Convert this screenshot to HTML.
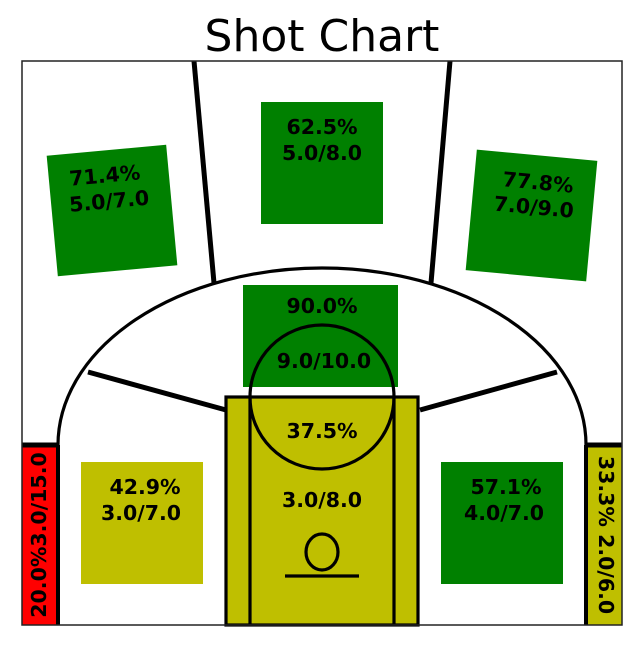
<!DOCTYPE html>
<html><head><meta charset="utf-8">
<style>
html,body{margin:0;padding:0;background:#fff;}
svg{display:block;}
text{font-family:"DejaVu Sans","Liberation Sans",sans-serif;}
</style></head>
<body>
<svg id="chart" width="637" height="647" viewBox="0 0 637 647" xmlns="http://www.w3.org/2000/svg">
<rect x="0" y="0" width="637" height="647" fill="#fff"/>
<text x="322" y="51" font-size="44" text-anchor="middle" fill="#000">Shot Chart</text>
<g id="zones"></g>
<g id="court" fill="none" stroke="#000">
  <path d="M58,445 A264,177 0 0 1 586,445" stroke-width="3.2"/>
  <line x1="58" y1="445" x2="58" y2="625" stroke-width="4"/>
  <line x1="586" y1="445" x2="586" y2="625" stroke-width="4"/>
  <line x1="22" y1="445" x2="58" y2="445" stroke-width="5"/>
  <line x1="586" y1="445" x2="622" y2="445" stroke-width="5"/>
  <line x1="88" y1="372" x2="226" y2="410" stroke-width="5"/>
  <line x1="557" y1="372" x2="420" y2="410" stroke-width="5"/>
  <line x1="194" y1="61" x2="214" y2="283" stroke-width="5"/>
  <line x1="450" y1="61" x2="431" y2="283" stroke-width="5"/>
</g>
<g id="paint-layer"></g>
<g id="labels"></g>
<rect x="22" y="61" width="600" height="564" fill="none" stroke="#222" stroke-width="1.5"/>
</svg>
<script>
// Zone data
const zoneNames = ["left-corner","left-wing","left-top","top","right-top","right-wing","right-corner","mid-range","paint"];
const makes    = [3, 3, 5, 5, 7, 4, 2, 9, 3];
const attempts = [15, 7, 7, 8, 9, 7, 6, 10, 8];

const NS = "http://www.w3.org/2000/svg";
function colorFor(p){ return p < 0.3 ? "#ff0000" : (p < 0.5 ? "#bfbf00" : "#008000"); }
function pct(i){ return makes[i]/attempts[i]; }
function pctText(i){ return (pct(i)*100).toFixed(1)+"%"; }
function ratioText(i){ return makes[i].toFixed(1)+"/"+attempts[i].toFixed(1); }
function mk(tag, attrs, parent){ const e=document.createElementNS(NS,tag); for(const k in attrs) e.setAttribute(k,attrs[k]); parent.appendChild(e); return e; }

const zones = document.getElementById("zones");
const paintLayer = document.getElementById("paint-layer");
const labels = document.getElementById("labels");

const boxes = {
  "left-corner": {x:22,y:447,w:35,h:178,rot:0},
  "left-wing": {x:81,y:462,w:122,h:122,rot:0},
  "left-top": {x:52,y:150,w:120,h:121,rot:-5.3},
  "top": {x:261,y:102,w:122,h:122,rot:0},
  "right-top": {x:471,y:155,w:121,h:121,rot:5.3},
  "right-wing": {x:441,y:462,w:122,h:122,rot:0},
  "right-corner": {x:587,y:447,w:35,h:178,rot:0},
  "mid-range": {x:243,y:285,w:155,h:102,rot:0}
};
const textPos = {
  "left-wing": [[145,494],[141,520]],
  "left-top": [[108,182],[110,208]],
  "top": [[322,134],[322,160]],
  "right-top": [[535,189],[533,214]],
  "right-wing": [[506,494],[504,520]],
  "mid-range": [[322,313],[324,368]],
  "paint": [[322,438],[322,507]]
};

zoneNames.forEach(function(name, i){
  if(name === "paint") return;
  const b = boxes[name];
  const cx = b.x + b.w/2, cy = b.y + b.h/2;
  const r = mk("rect",{x:b.x,y:b.y,width:b.w,height:b.h,fill:colorFor(pct(i)),transform:"rotate("+b.rot+" "+cx+" "+cy+")"},zones);
  
  
});

const pi = zoneNames.indexOf("paint");
const lane = mk("rect",{x:226,y:397,width:192,height:228,fill:colorFor(pct(pi)),stroke:"#000","stroke-width":3.2},paintLayer);


[250,394].forEach(function(x){
  const l = mk("line",{x1:x,y1:397,x2:x,y2:625,stroke:"#000","stroke-width":3.2},paintLayer);
  
  
});
const ft = mk("ellipse",{cx:322,cy:397,rx:72,ry:72,fill:"none",stroke:"#000","stroke-width":3.2},paintLayer);


const hoop = mk("ellipse",{cx:322,cy:552,rx:16,ry:18,fill:"none",stroke:"#000","stroke-width":3.2},paintLayer);


const bb = mk("line",{x1:285,y1:576,x2:359,y2:576,stroke:"#000","stroke-width":3.2},paintLayer);



zoneNames.forEach(function(name, i){
  const s = {"font-size":20.5,"font-weight":"bold","text-anchor":"middle",fill:"#000"};
  if(name === "left-corner" || name === "right-corner"){
    const x = name === "left-corner" ? 46 : 599;
    const rot = name === "left-corner" ? -90 : 90;
    const t = mk("text",Object.assign({x:x,y:535,transform:"rotate("+rot+" "+x+" 535)"},s),labels);
    t.textContent = name === "left-corner" ? pctText(i)+ratioText(i) : pctText(i)+" "+ratioText(i);
    
    
    return;
  }
  const p = textPos[name];
  const b = boxes[name];
  const rotStr = b ? "rotate("+b.rot+" "+(b.x+b.w/2)+" "+(b.y+b.h/2)+")" : "";
  const t1 = mk("text",Object.assign({x:p[0][0],y:p[0][1],transform:rotStr},s),labels);
  t1.textContent = pctText(i);
  
  
  const t2 = mk("text",Object.assign({x:p[1][0],y:p[1][1],transform:rotStr},s),labels);
  t2.textContent = ratioText(i);
  
  
});
</script>
</body></html>
